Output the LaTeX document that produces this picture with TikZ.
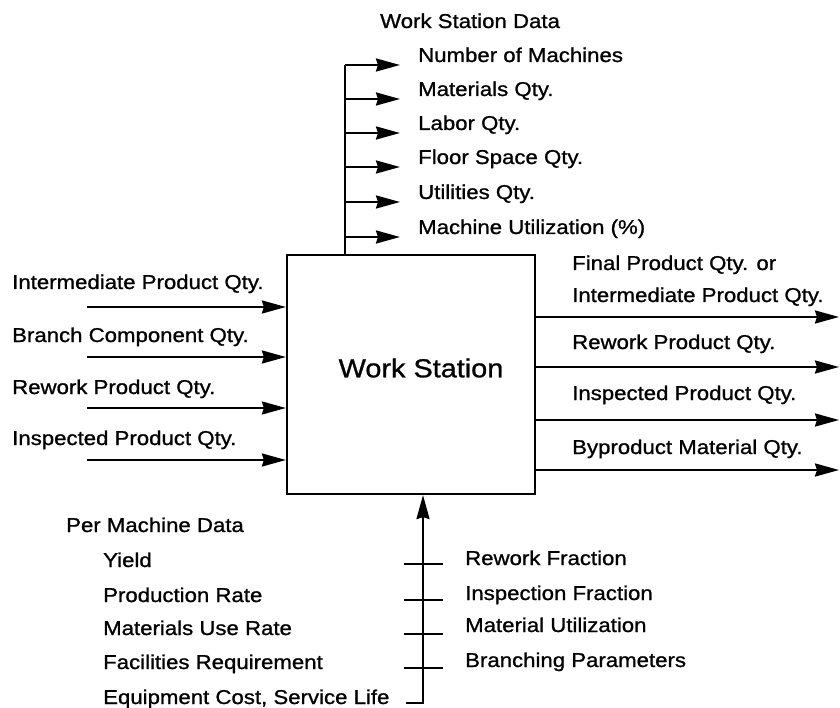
\documentclass[tikz,border=0pt]{standalone}
\usepackage{fontspec}
\setmainfont{Liberation Sans}[FakeStretch=1.11,FakeBold=1]
\usetikzlibrary{arrows.meta}
\begin{document}
\begin{tikzpicture}[x=1pt,y=-1pt,
  lbl/.style={anchor=base west,inner sep=0pt,font=\fontsize{20}{22}\selectfont},
  ln/.style={line width=2.2pt},
  arr/.style={ln,-{Stealth[length=24pt,width=13pt,inset=2pt]}},
  wsbox/.style={draw,line width=2.2pt,minimum width=248pt,minimum height=239pt,inner sep=0pt}]
\useasboundingbox (0,0) rectangle (840,708);
% main box
\node[wsbox] (ws) at (411,374.5) {};
\node[inner sep=0pt,font=\fontsize{26}{28}\selectfont] (wst) at (421,368) {Work Station};

% top outputs
\node[lbl] (wsd) at (380,28) {Work Station Data};
\coordinate (tb) at (345,255);
\coordinate (tt) at (345,65);
\draw[ln] (tb) -- (tt);
\foreach \y/\t [count=\i] in {65/Number of Machines,99/Materials Qty.,133/Labor Qty.,167/Floor Space Qty.,202/Utilities Qty.,237/Machine Utilization (\%)}{
  \coordinate (ts\i) at (345,\y);
  \coordinate (te\i) at (400,\y);
  \draw[arr] (ts\i) -- (te\i);
  \node[lbl] (tl\i) at (418,\y-3) {\t};
}

% left inputs
\foreach \y/\ly/\t [count=\i] in {307/282/Intermediate Product Qty.,357/335/Branch Component Qty.,408/387/Rework Product Qty.,460/438/Inspected Product Qty.}{
  \coordinate (ls\i) at (87,\y);
  \draw[arr] (ls\i) -- (ls\i -| ws.west);
  \node[lbl] (ll\i) at (12,\ly+7) {\t};
}

% right outputs
\node[lbl] (rl0) at (572,270) {Final Product Qty. or};
\foreach \y/\ly/\t [count=\i] in {317/295/Intermediate Product Qty.,367/342/Rework Product Qty.,420/393/Inspected Product Qty.,470/447/Byproduct Material Qty.}{
  \coordinate (re\i) at (839,\y);
  \draw[arr] (re\i -| ws.east) -- (re\i);
  \node[lbl] (rl\i) at (572,\ly+7) {\t};
}

% bottom controls
\coordinate (hk) at (406,703);
\coordinate (hc) at (423,703);
\draw[arr] (hk) -- (hc) -- (hc |- ws.south);
\foreach \y [count=\i] in {564,600,634,668}{
  \coordinate (ka\i) at (404,\y);
  \coordinate (kb\i) at (443,\y);
  \draw[ln] (ka\i) -- (kb\i);
}
\node[lbl] (pmd) at (66,532) {Per Machine Data};
\foreach \y/\t [count=\i] in {560/Yield,595/Production Rate,628/Materials Use Rate,662/Facilities Requirement,697/{Equipment Cost, Service Life}}{
  \node[lbl] (bl\i) at (103,\y+7) {\t};
}
\foreach \y/\t [count=\i] in {558/Rework Fraction,593/Inspection Fraction,625/Material Utilization,660/Branching Parameters}{
  \node[lbl] (br\i) at (465,\y+7) {\t};
}
\end{tikzpicture}
\end{document}
